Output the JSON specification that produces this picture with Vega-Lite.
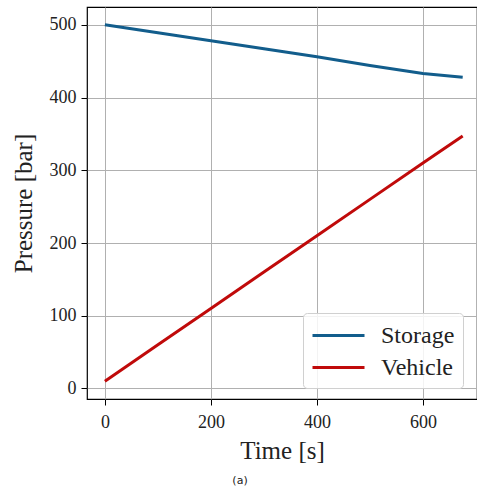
{
  "$schema": "https://vega.github.io/schema/vega-lite/v6.json",
  "autosize": {"type": "none"},
  "padding": {"left": 87, "top": 7, "right": 0, "bottom": 94},
  "width": 390,
  "height": 392,
  "background": "white",
  "config": {
    "view": {"stroke": "black", "strokeWidth": 1.2},
    "font": "Liberation Serif"
  },
  "title": {
    "text": "(a)",
    "orient": "bottom",
    "anchor": "middle",
    "dx": -42,
    "offset": 12,
    "font": "DejaVu Sans",
    "fontSize": 11,
    "fontWeight": "normal",
    "color": "#222"
  },
  "data": {
    "values": [
      {"series": "Storage", "t": 0, "p": 500},
      {"series": "Storage", "t": 100, "p": 489},
      {"series": "Storage", "t": 200, "p": 478},
      {"series": "Storage", "t": 300, "p": 467},
      {"series": "Storage", "t": 400, "p": 456},
      {"series": "Storage", "t": 500, "p": 444},
      {"series": "Storage", "t": 600, "p": 433},
      {"series": "Storage", "t": 675, "p": 428},
      {"series": "Vehicle", "t": 0, "p": 10},
      {"series": "Vehicle", "t": 100, "p": 60},
      {"series": "Vehicle", "t": 200, "p": 110},
      {"series": "Vehicle", "t": 300, "p": 160},
      {"series": "Vehicle", "t": 400, "p": 210},
      {"series": "Vehicle", "t": 500, "p": 260},
      {"series": "Vehicle", "t": 600, "p": 310},
      {"series": "Vehicle", "t": 675, "p": 347}
    ]
  },
  "mark": {"type": "line", "strokeWidth": 3, "clip": true},
  "encoding": {
    "x": {
      "field": "t",
      "type": "quantitative",
      "scale": {"domain": [-33.75, 702], "nice": false, "zero": false},
      "axis": {
        "title": "Time [s]",
        "values": [0, 200, 400, 600],
        "format": "d",
        "grid": true,
        "gridColor": "#b0b0b0",
        "gridWidth": 1,
        "domain": false,
        "tickColor": "black",
        "tickSize": 6,
        "tickWidth": 1,
        "labelFontSize": 18,
        "labelColor": "#222",
        "labelPadding": 8,
        "titleFontSize": 25,
        "titleFontWeight": "normal",
        "titleColor": "#222",
        "titlePadding": 7
      }
    },
    "y": {
      "field": "p",
      "type": "quantitative",
      "scale": {"domain": [-14.5, 524.5], "nice": false, "zero": false},
      "axis": {
        "title": "Pressure [bar]",
        "values": [0, 100, 200, 300, 400, 500],
        "format": "d",
        "grid": true,
        "gridColor": "#b0b0b0",
        "gridWidth": 1,
        "domain": false,
        "tickColor": "black",
        "tickSize": 6,
        "tickWidth": 1,
        "labelFontSize": 18,
        "labelColor": "#222",
        "labelPadding": 5,
        "titleFontSize": 25,
        "titleFontWeight": "normal",
        "titleColor": "#222",
        "titlePadding": 13
      }
    },
    "color": {
      "field": "series",
      "type": "nominal",
      "scale": {"domain": ["Storage", "Vehicle"], "range": ["#125d8c", "#c00a0a"]},
      "legend": {
        "title": null,
        "orient": "none",
        "legendX": 216,
        "legendY": 306,
        "direction": "vertical",
        "fillColor": "rgba(255,255,255,0.85)",
        "strokeColor": "#d0d0d0",
        "cornerRadius": 4,
        "padding": 8,
        "symbolType": "M-2,0H2",
        "symbolSize": 676,
        "symbolStrokeWidth": 3,
        "symbolOffset": 13,
        "labelFontSize": 24,
        "labelColor": "#222",
        "labelOffset": 28,
        "rowPadding": 5,
        "labelLimit": 200
      }
    }
  }
}
